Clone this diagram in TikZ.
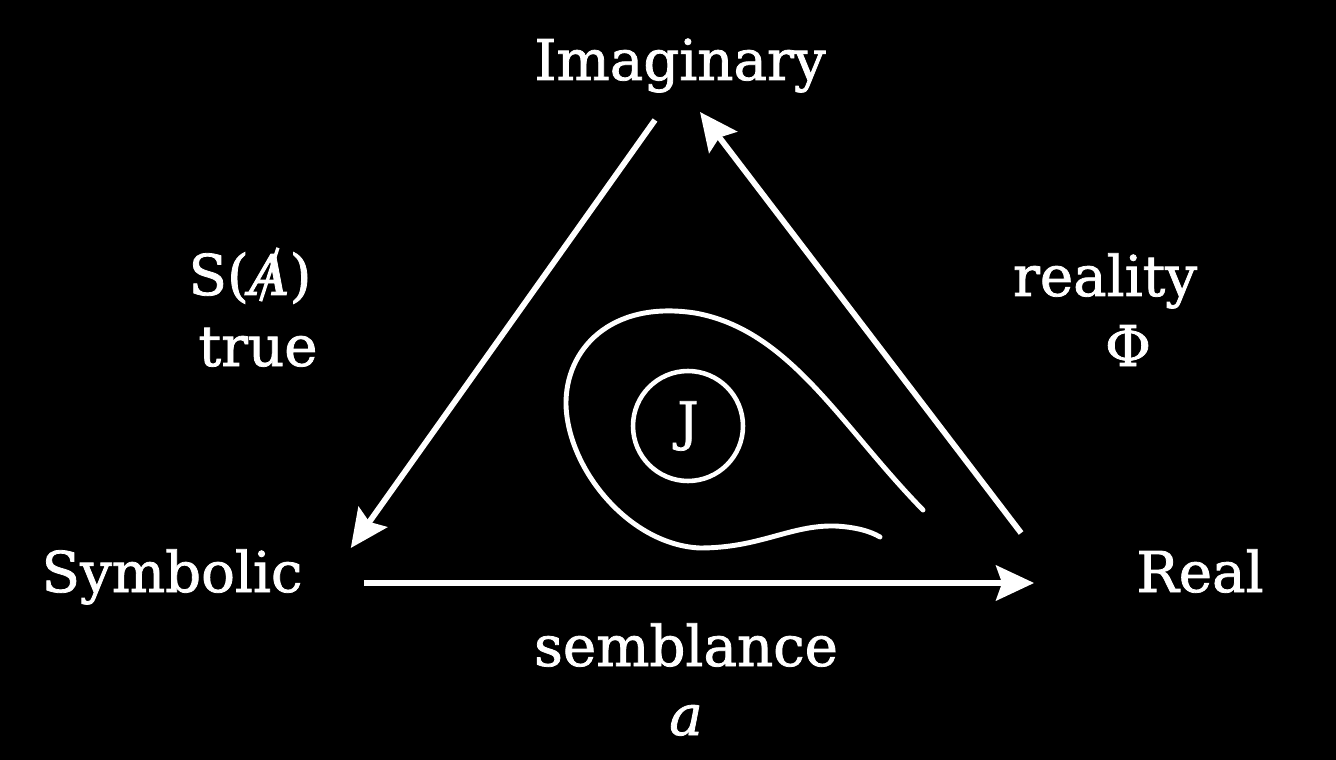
\documentclass[tikz,border=0pt]{standalone}
\usepackage{fontspec}
\setmainfont{DejaVu Serif}[FakeBold=1.4]
\usepackage{graphicx}
\usetikzlibrary{arrows.meta,calc}

\newcommand{\barA}{\ooalign{\hfil\raisebox{-0.12em}{\rotatebox{72}{\rule{1.0em}{0.06em}}}\hfil\cr\textit{A}}}

\begin{document}
\begin{tikzpicture}[
    x=0.02cm, y=-0.02cm,
    lbl/.style={text=white, font=\fontsize{32}{38}\selectfont, inner sep=0pt},
    arr/.style={-{Stealth[length=0.76cm,width=0.7cm,inset=0.12cm]}, white, line width=3.3pt},
    loopline/.style={white, line width=2.8pt, line cap=round}
  ]
    \fill[black] (0,0) rectangle (1336,760);
    \useasboundingbox (0,0) rectangle (1336,760);

    % Corners of the triangle
    \node[lbl, anchor=base] (imag) at (680,80) {Imaginary};
    \node[lbl, anchor=base] (symb) at (172,592) {Symbolic};
    \node[lbl, anchor=base] (real) at (1200,592) {Real};

    % Side labels
    \node[lbl, anchor=base] (sa) at (250,295) {S(\barA)};
    \node[lbl, anchor=base] (true) at (258,366) {true};
    \node[lbl, anchor=base] (reality) at (1105,296) {reality};
    \node[lbl, anchor=base] (phi) at (1128,366) {Φ};
    \node[lbl, anchor=base] (semb) at (686,666) {semblance};
    \node[lbl, anchor=base] (a) at (686,735) {\textit{a}};

    % Arrows
    \draw[arr] ($(imag.base)+(-25,40)$) -- ($(symb.base east)+(48,-44)$);
    \draw[arr] ($(real.base west)+(-115,-59)$) -- ($(imag.base)+(20,32)$);
    \draw[arr] ($(symb.base east)+(61,-9)$) -- ($(real.base west)+(-102,-9)$);

    % Center
    \node[draw=white, line width=2.6pt, circle, minimum size=2.2cm,
          text=white, font=\fontsize{30}{36}\selectfont] (jouis) at (688,426) {J};
    \draw[loopline] (923,510) .. controls (840,425) and (790,330) .. (695,313)
      .. controls (610,300) and (565,350) .. (566,405)
      .. controls (568,470) and (630,545) .. (700,548)
      .. controls (760,548) and (790,525) .. (835,526)
      .. controls (855,527) and (870,531) .. (880,537);
  \end{tikzpicture}
\end{document}
